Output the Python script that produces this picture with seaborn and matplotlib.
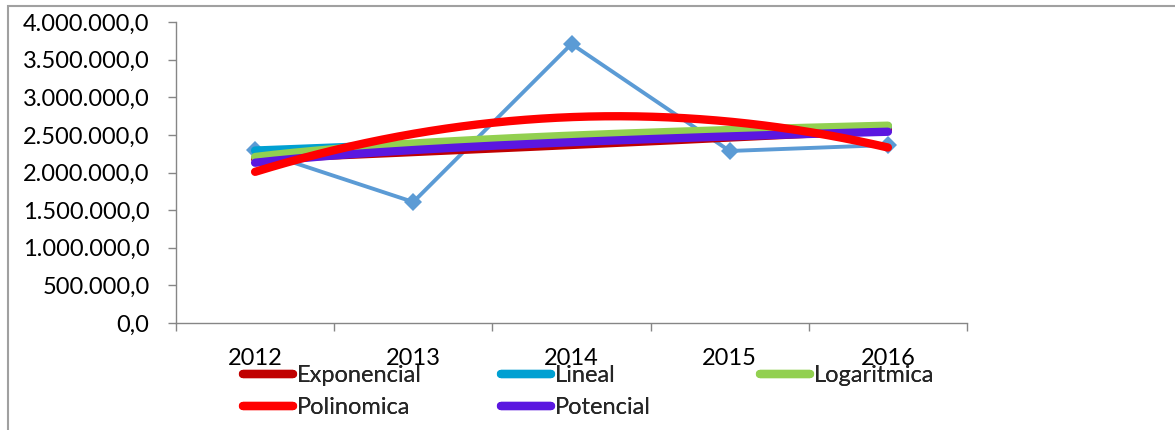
import numpy as np
import pandas as pd
import matplotlib
matplotlib.use("Agg")
import matplotlib.pyplot as plt
import seaborn as sns
from matplotlib.ticker import FuncFormatter, FixedLocator, NullFormatter
from matplotlib.patches import Rectangle
from matplotlib.lines import Line2D

# ---- data ----
years = ["2012", "2013", "2014", "2015", "2016"]
values = [2300000, 1608000, 3708000, 2286000, 2365000]
trend_names = ["Exponencial", "Lineal", "Logaritmica", "Polinomica", "Potencial"]
trend_colors = ["#C00000", "#00A0D2", "#92D050", "#FF0000", "#5B17E0"]
y_ticks = [0, 500000, 1000000, 1500000, 2000000, 2500000, 3000000, 3500000, 4000000]

sns.set_theme(style="white")
plt.rcParams["font.family"] = ["Lato", "DejaVu Sans"]

W, H = 1175, 430
fig = plt.figure(figsize=(W / 100, H / 100), dpi=100)
fig.patch.set_facecolor("white")
ax = fig.add_axes([176 / W, 1 - 323 / H, (967 - 176) / W, 301 / H])

xi = np.arange(1, len(years) + 1)
y = np.array(values, dtype=float)
pos = xi - 1

df = pd.DataFrame({"pos": pos, "value": y})
sns.lineplot(data=df, x="pos", y="value", ax=ax, color="#5B9BD5", lw=2.8,
             marker="D", markersize=9, markeredgewidth=0, zorder=2)

# Excel-style trendlines computed from the data
xs = np.linspace(1, 5, 200)
fits = {
    "Exponencial": np.exp(np.polyval(np.polyfit(xi, np.log(y), 1), xs)),
    "Lineal": np.polyval(np.polyfit(xi, y, 1), xs),
    "Logaritmica": np.polyval(np.polyfit(np.log(xi), y, 1), np.log(xs)),
    "Polinomica": np.polyval(np.polyfit(xi, y, 2), xs),
    "Potencial": np.exp(np.polyval(np.polyfit(np.log(xi), np.log(y), 1), np.log(xs))),
}
zorders = {"Exponencial": 3, "Lineal": 4, "Logaritmica": 5, "Potencial": 6, "Polinomica": 7}
handles = {}
for name, col in zip(trend_names, trend_colors):
    sns.lineplot(x=xs - 1, y=fits[name], ax=ax, color=col, lw=6,
                 solid_capstyle="round", zorder=zorders[name], sort=False)
    handles[name] = Line2D([], [], color=col, lw=6, solid_capstyle="round")

ax.set_xlim(-0.5, len(years) - 0.5)
ax.set_ylim(0, 4000000)
ax.set_xlabel("")
ax.set_ylabel("")

ax.yaxis.set_major_locator(FixedLocator(y_ticks))
ax.yaxis.set_major_formatter(FuncFormatter(
    lambda v, p: f"{v:,.1f}".replace(",", "X").replace(".", ",").replace("X", ".")))
ax.xaxis.set_major_locator(FixedLocator(np.arange(-0.5, len(years), 1.0)))
ax.xaxis.set_major_formatter(NullFormatter())
ax.xaxis.set_minor_locator(FixedLocator(pos))
ax.set_xticklabels(years, minor=True)

for s in ["top", "right"]:
    ax.spines[s].set_visible(False)
for s in ["left", "bottom"]:
    ax.spines[s].set_color("#868686")
    ax.spines[s].set_linewidth(1.0)

fs = 17
ax.tick_params(axis="y", which="major", direction="out", length=6, width=1,
               color="#868686", labelsize=fs, pad=13, labelcolor="black", left=True)
ax.tick_params(axis="x", which="major", direction="out", length=6, width=1,
               color="#868686", bottom=True)
ax.tick_params(axis="x", which="minor", length=0, labelsize=fs, pad=18,
               labelcolor="black", bottom=True)

# legend: three equal-width columns like Excel
legend_cols = [["Exponencial", "Polinomica"], ["Lineal", "Potencial"], ["Logaritmica"]]
col_x = [243, 501, 760]
for names, x0 in zip(legend_cols, col_x):
    leg = fig.legend([handles[n] for n in names], names, loc="upper left",
                     bbox_to_anchor=(x0 / W, 1 - 365 / H), ncol=1, frameon=False,
                     fontsize=fs, handlelength=2.1, handletextpad=0.2,
                     labelspacing=0.48, borderaxespad=0, borderpad=0)
    fig.add_artist(leg)

# chart-area border
fig.patches.append(Rectangle((8 / W, -0.5), 2.0, 0.5 + 1 - 6 / H, transform=fig.transFigure,
                             fill=False, edgecolor="#A0A0A0", lw=1.5, zorder=0))

fig.savefig("out.png", dpi=100, facecolor="white")
